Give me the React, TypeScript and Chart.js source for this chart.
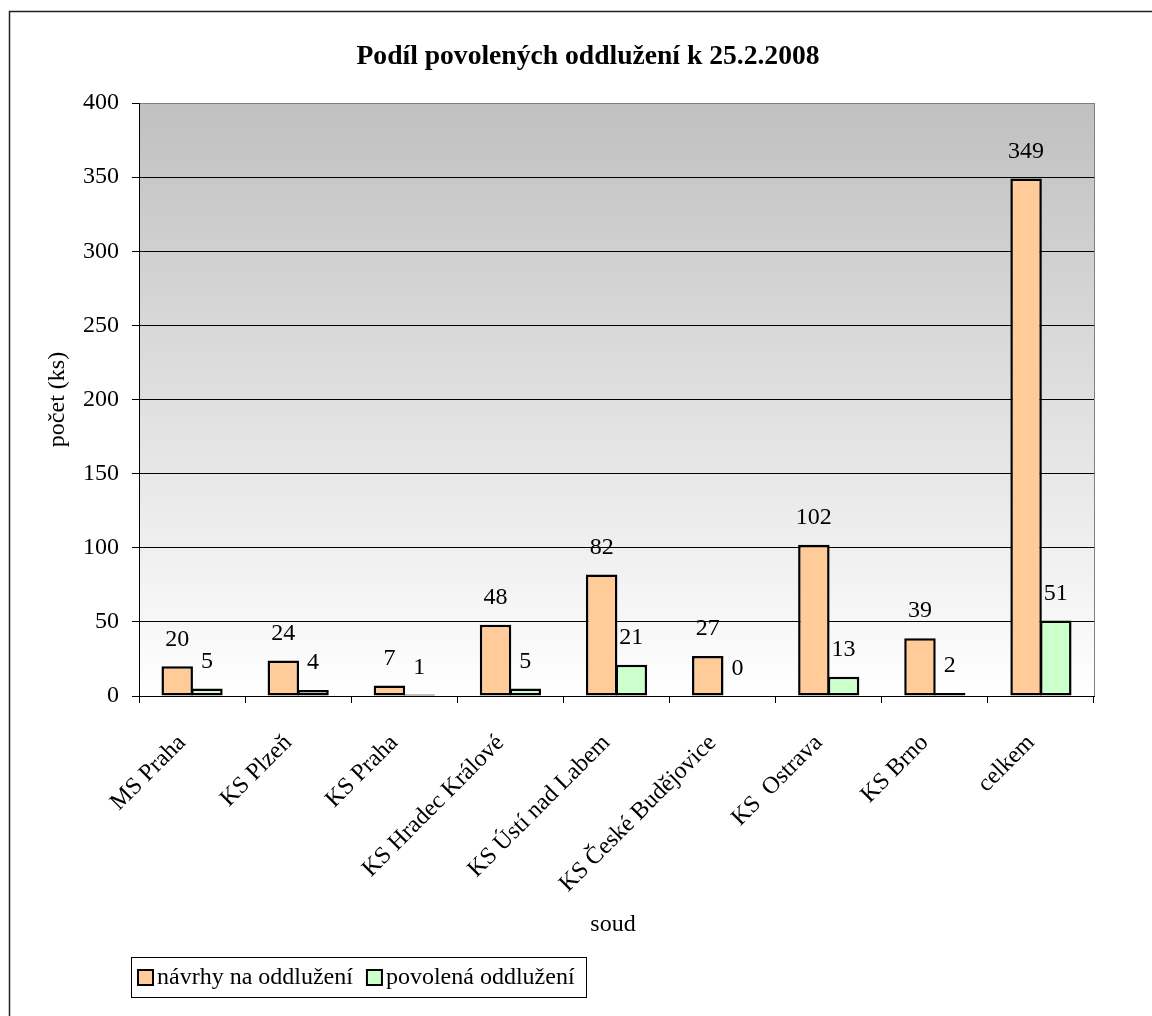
import React, { useEffect, useRef } from "react";
import { Chart, registerables } from "chart.js";

Chart.register(...registerables);

// Courts (categories) and the two series
const categories = [
  "MS Praha",
  "KS Plzeň",
  "KS Praha",
  "KS Hradec Králové",
  "KS Ústí nad Labem",
  "KS České Budějovice",
  "KS  Ostrava",
  "KS Brno",
  "celkem",
];
const navrhy = [20, 24, 7, 48, 82, 27, 102, 39, 349];
const povolena = [5, 4, 1, 5, 21, 0, 13, 2, 51];
const seriesNames = ["návrhy na oddlužení", "povolená oddlužení"];
const seriesColors = ["#FFCC99", "#CCFFCC"];

const chartTitle = "Podíl povolených oddlužení k 25.2.2008";
const yAxisTitle = "počet (ks)";
const xAxisTitle = "soud";

const yMin = 0;
const yMax = 400;
const yStep = 50;

const SERIF = "'Liberation Serif', 'Times New Roman', serif";
const FONT_SIZE = 24;

// Frame, plot background gradient
const backdropPlugin = {
  id: "backdrop",
  beforeDraw(chart: any) {
    const { ctx, chartArea } = chart;
    ctx.save();
    ctx.fillStyle = "#ffffff";
    ctx.fillRect(0, 0, chart.width, chart.height);
    const g = ctx.createLinearGradient(0, chartArea.top, 0, chartArea.bottom);
    g.addColorStop(0, "#c0c0c0");
    g.addColorStop(1, "#ffffff");
    ctx.fillStyle = g;
    ctx.fillRect(chartArea.left, chartArea.top, chartArea.right - chartArea.left, chartArea.bottom - chartArea.top);
    // outer chart frame
    ctx.strokeStyle = "#202020";
    ctx.lineWidth = 1.5;
    ctx.strokeRect(9.5, 11.5, 1400, 1400);
    ctx.restore();
  },
};

// Value labels above bars, titles, legend, right plot border
const annotationsPlugin = {
  id: "annotations",
  afterDatasetsDraw(chart: any) {
    const { ctx } = chart;
    ctx.save();
    ctx.font = `${FONT_SIZE}px ${SERIF}`;
    ctx.fillStyle = "#000";
    ctx.textAlign = "center";
    ctx.textBaseline = "middle";
    chart.data.datasets.forEach((ds: any, i: number) => {
      const meta = chart.getDatasetMeta(i);
      meta.data.forEach((el: any, j: number) => {
        ctx.fillText(String(ds.data[j]), el.x, el.y - 27);
      });
    });
    ctx.restore();
  },
  afterDraw(chart: any) {
    const { ctx, chartArea } = chart;
    ctx.save();

    // right border of the plot area
    ctx.strokeStyle = "#808080";
    ctx.lineWidth = 1;
    ctx.beginPath();
    ctx.moveTo(Math.round(chartArea.right) + 0.5, chartArea.top);
    ctx.lineTo(Math.round(chartArea.right) + 0.5, chartArea.bottom);
    ctx.stroke();

    ctx.fillStyle = "#000";

    // chart title
    ctx.font = `bold 27.6px ${SERIF}`;
    ctx.textAlign = "center";
    ctx.textBaseline = "middle";
    ctx.fillText(chartTitle, 588, 57);

    // axis titles
    ctx.font = `${FONT_SIZE}px ${SERIF}`;
    ctx.fillText(xAxisTitle, 613, 925);
    ctx.save();
    ctx.translate(58, (chartArea.top + chartArea.bottom) / 2);
    ctx.rotate(-Math.PI / 2);
    ctx.fillText(yAxisTitle, 0, 0);
    ctx.restore();

    // legend
    const boxX = 131.5;
    const boxY = 957.5;
    const boxH = 40;
    const mark = 15;
    const midY = boxY + boxH / 2;
    ctx.font = `${FONT_SIZE}px ${SERIF}`;
    ctx.textAlign = "left";
    ctx.textBaseline = "middle";
    let x = 138;
    const parts: { mx: number; tx: number; w: number }[] = [];
    seriesNames.forEach((name) => {
      const w = ctx.measureText(name).width;
      parts.push({ mx: x, tx: x + mark + 4, w });
      x = x + mark + 4 + w + 14;
    });
    const boxW = x - 14 + 12 - boxX;
    ctx.strokeStyle = "#000";
    ctx.lineWidth = 1;
    ctx.strokeRect(boxX, boxY, Math.round(boxW), boxH);
    parts.forEach((p, i) => {
      ctx.fillStyle = seriesColors[i];
      ctx.fillRect(p.mx, midY - mark / 2, mark, mark);
      ctx.strokeStyle = "#000";
      ctx.lineWidth = 2;
      ctx.strokeRect(p.mx, midY - mark / 2, mark, mark);
      ctx.fillStyle = "#000";
      ctx.fillText(seriesNames[i], p.tx, midY);
    });

    ctx.restore();
  },
};

export default function App() {
  const canvasRef = useRef<HTMLCanvasElement>(null);

  useEffect(() => {
    const canvas = canvasRef.current;
    if (!canvas) return;
    Chart.defaults.font.family = SERIF;
    Chart.defaults.color = "#000";

    const chart = new Chart(canvas, {
      type: "bar",
      data: {
        labels: categories,
        datasets: [
          {
            label: seriesNames[0],
            data: navrhy,
            backgroundColor: seriesColors[0],
            borderColor: "#000",
            borderWidth: 2.5,
            borderSkipped: false,
          },
          {
            label: seriesNames[1],
            data: povolena,
            backgroundColor: seriesColors[1],
            borderColor: "#000",
            borderWidth: 2.5,
            borderSkipped: false,
          },
        ],
      },
      options: {
        responsive: false,
        animation: false,
        devicePixelRatio: 1,
        layout: { padding: { left: 0, top: 103, right: 58, bottom: 0 } },
        datasets: {
          bar: { categoryPercentage: 0.56, barPercentage: 1.06 },
        },
        plugins: {
          legend: { display: false },
          title: { display: false },
          tooltip: { enabled: false },
        },
        scales: {
          x: {
            grid: {
              offset: true,
              drawOnChartArea: false,
              drawTicks: true,
              tickLength: 7,
              color: "#000",
              lineWidth: 1,
            },
            border: { color: "#000", width: 1 },
            ticks: {
              autoSkip: false,
              minRotation: 45,
              maxRotation: 45,
              color: "#000",
              padding: 26,
              labelOffset: -10,
              font: { family: SERIF, size: FONT_SIZE },
            },
            afterFit: (scale: any) => {
              scale.height = 320;
            },
          },
          y: {
            min: yMin,
            max: yMax,
            ticks: {
              stepSize: yStep,
              color: "#000",
              padding: 13,
              font: { family: SERIF, size: FONT_SIZE },
            },
            grid: {
              color: (c: any) => (c.tick && c.tick.value === yMax ? "#808080" : "#000"),
              tickColor: "#000",
              tickLength: 7,
              lineWidth: 1,
            },
            border: { color: "#000", width: 1 },
            afterFit: (scale: any) => {
              scale.width = 139;
            },
          },
        },
      },
      plugins: [backdropPlugin, annotationsPlugin],
    });

    return () => chart.destroy();
  }, []);

  return (
    <div style={{ position: "absolute", left: 0, top: 0, width: 1152, height: 1016, background: "#fff" }}>
      <canvas ref={canvasRef} width={1152} height={1016} style={{ display: "block", width: 1152, height: 1016 }} />
    </div>
  );
}
